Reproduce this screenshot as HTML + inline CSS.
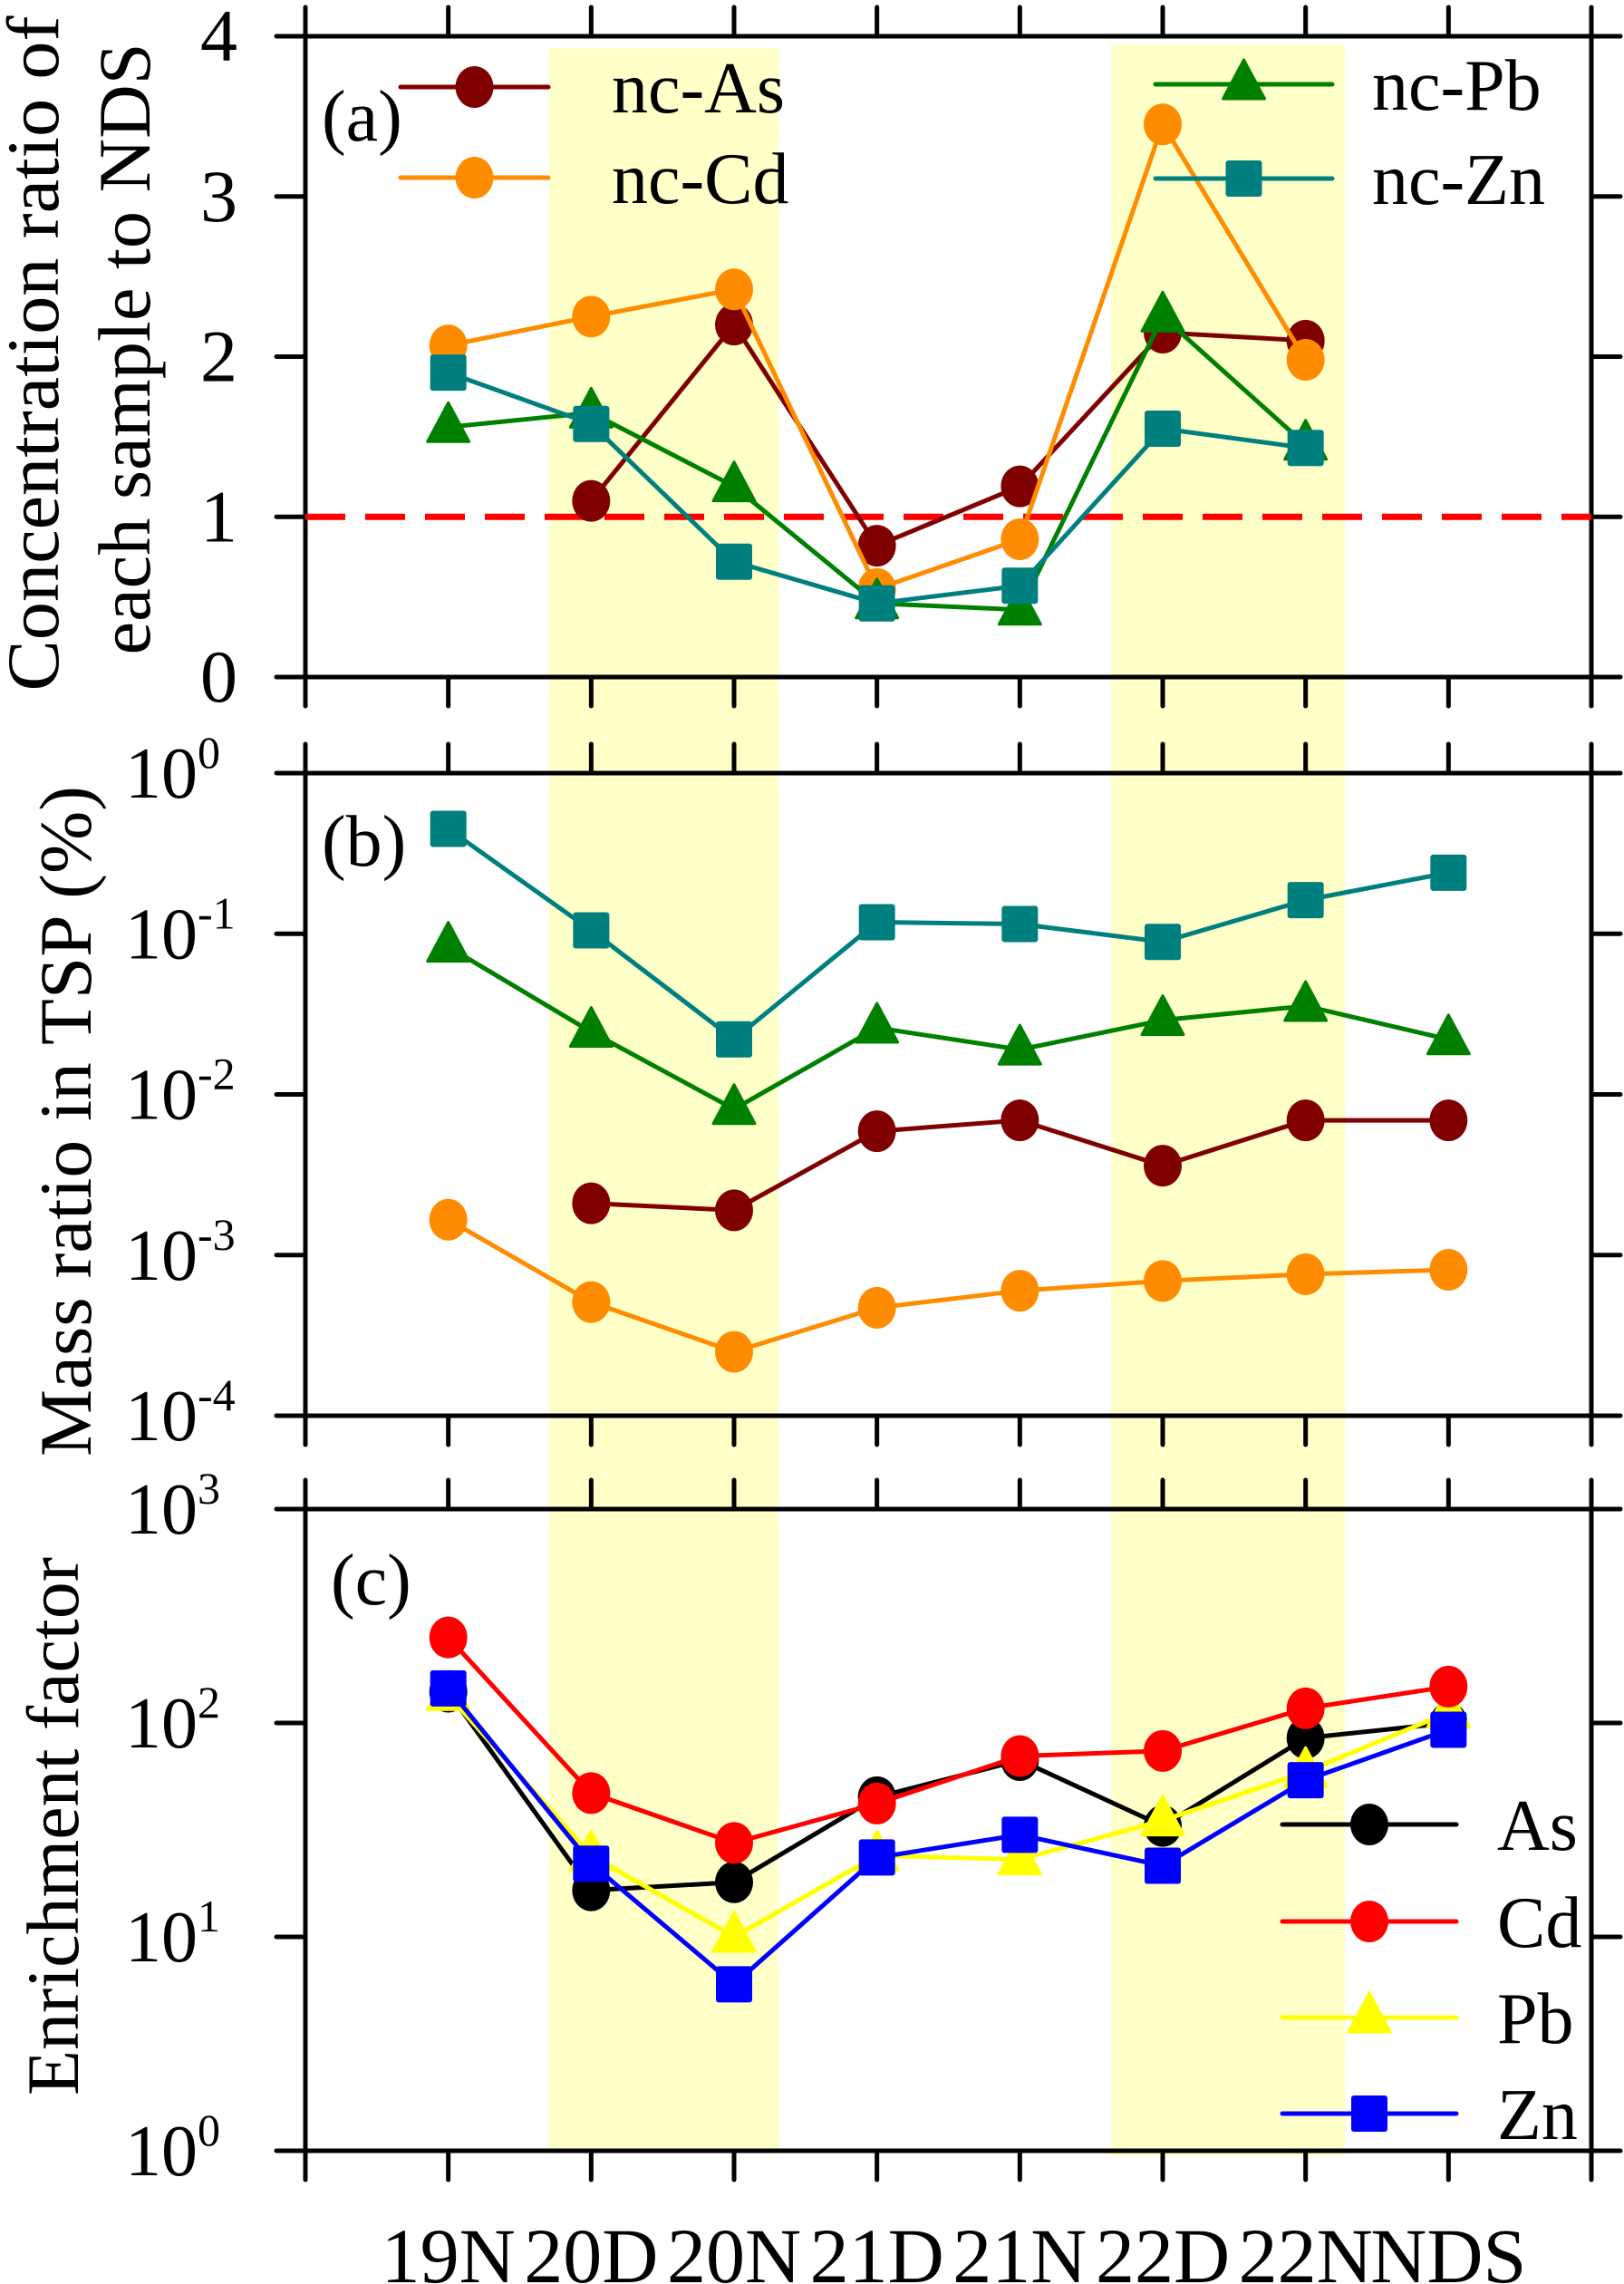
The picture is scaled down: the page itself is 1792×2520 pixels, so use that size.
<!DOCTYPE html>
<html><head><meta charset="utf-8"><style>
html,body{margin:0;padding:0;background:#fff;}
svg{display:block;}
text{font-family:"Liberation Serif","Times New Roman","DejaVu Serif",serif;fill:#000;}
</style></head><body>
<svg id="chart" width="1792" height="2520" viewBox="0 0 1792 2520" xmlns="http://www.w3.org/2000/svg" font-family="Liberation Serif, Times New Roman, DejaVu Serif, serif">
<g id="bands"></g><g id="axes"></g><g id="series"></g><g id="labels"></g>
</svg>
<script>
const categories = ["19N","20D","20N","21D","21N","22D","22N","NDS"];
// Panel (a) concentration ratio
const aAs = [null,1.1,2.2,0.82,1.19,2.15,2.1,null];
const aCd = [2.07,2.25,2.42,0.55,0.86,3.45,1.98,null];
const aPb = [1.56,1.65,1.19,0.46,0.42,2.25,1.45,null];
const aZn = [1.9,1.58,0.72,0.46,0.57,1.55,1.43,null];
const aTicks = [0,1,2,3,4];
// Panel (b) mass ratio in TSP (%)
const bZn = [0.45,0.105,0.022,0.118,0.115,0.089,0.162,0.24];
const bPb = [0.083,0.0245,0.0081,0.026,0.019,0.029,0.0355,0.022];
const bAs = [null,0.0021,0.0019,0.0059,0.0069,0.0036,0.0069,0.0069];
const bCd = [0.00166,0.00051,0.00025,0.00047,0.0006,0.00069,0.00076,0.00081];
const bExp = [0,-1,-2,-3,-4];
// Panel (c) enrichment factor
const cAs = [140,16.5,18,45,67,33,85,100];
const cCd = [251,47,27.5,42,70,74,117,148];
const cPb = [135,24,10,24,23,35,59,112];
const cZn = [145,22,6,23.5,30,21.5,54,93];
const cExp = [0,1,2,3];

const NS="http://www.w3.org/2000/svg";
const FONT='"Liberation Serif","Times New Roman","DejaVu Serif",serif';
const L=337,R=1756,step=(R-L)/9;
const X=i=>L+(i+1)*step;
const P={a:{t:40,b:747},b:{t:853,b:1562},c:{t:1665,b:2373}};
const yA=v=>P.a.b-(v/4)*(P.a.b-P.a.t);
const yB=v=>P.b.b-((Math.log10(v)+4)/4)*(P.b.b-P.b.t);
const yC=v=>P.c.b-(Math.log10(v)/3)*(P.c.b-P.c.t);
function mk(tag,attrs,parent){const e=document.createElementNS(NS,tag);for(const k in attrs)e.setAttribute(k,attrs[k]);if(tag==='text')e.style.fontFamily=FONT;document.getElementById(parent).appendChild(e);return e;}

let e;
e=mk('rect',{x:606,y:53,width:253,height:2323,fill:'#ffffc8'},'bands');


e=mk('rect',{x:1226,y:49,width:258,height:2330,fill:'#ffffc8'},'bands');



function panelAxes(p,name){
  const {t,b}=P[p];
  e=mk('rect',{x:L,y:t,width:R-L,height:b-t,fill:'none',stroke:'#000','stroke-width':5},'axes');
  
  
  for(let i=0;i<10;i++){
    const x=L+i*step;
    e=mk('line',{x1:x,y1:t-32,x2:x,y2:t,stroke:'#000','stroke-width':5,'stroke-linecap':'round'},'axes');
    
    
    e=mk('line',{x1:x,y1:b,x2:x,y2:b+32,stroke:'#000','stroke-width':5,'stroke-linecap':'round'},'axes');
    
    
  }
}
panelAxes('a','panel-a');panelAxes('b','panel-b');panelAxes('c','panel-c');
function yTick(y,name){
  e=mk('line',{x1:L-32,y1:y,x2:L,y2:y,stroke:'#000','stroke-width':5,'stroke-linecap':'round'},'axes');
  
  
  e=mk('line',{x1:R,y1:y,x2:R+32,y2:y,stroke:'#000','stroke-width':5,'stroke-linecap':'round'},'axes');
  
  
}
aTicks.forEach(v=>{const y=yA(v);yTick(y,'panel-a');
  e=mk('text',{x:262,y:y+27,'font-size':82,'text-anchor':'end'},'labels');e.textContent=String(v);
  
  });
function powLabel(y,ex,name){
  e=mk('text',{x:218,y:y+27,'font-size':80,'text-anchor':'end'},'labels');e.textContent='10';
  
  
  e=mk('text',{x:218,y:y-6,'font-size':50,'text-anchor':'start'},'labels');e.textContent=String(ex);
  
  
}
bExp.forEach(ex=>{const y=yB(Math.pow(10,ex));yTick(y,'panel-b');powLabel(y,ex,'panel-b');});
cExp.forEach(ex=>{const y=yC(Math.pow(10,ex));yTick(y,'panel-c');powLabel(y,ex,'panel-c');});

e=mk('line',{x1:L,y1:yA(1),x2:R,y2:yA(1),stroke:'#ff0000','stroke-width':7,'stroke-dasharray':'44 22'},'axes');



function marker(shape,x,y,color,name){
  if(shape==='circle'){e=mk('ellipse',{cx:x,cy:y,rx:21,ry:23,fill:color},'series');}
  else if(shape==='square'){e=mk('rect',{x:x-20,y:y-20,width:40,height:40,rx:3,fill:color},'series');}
  else {e=mk('polygon',{points:`${x},${y-27} ${x+23},${y+16} ${x-23},${y+16}`,fill:color,stroke:color,'stroke-width':3,'stroke-linejoin':'round'},'series');}
  
  
}
function series(vals,yf,color,shape,name){
  const pts=[];vals.forEach((v,i)=>{if(v!=null)pts.push([X(i),yf(v)]);});
  e=mk('polyline',{points:pts.map(p=>p.join(',')).join(' '),fill:'none',stroke:color,'stroke-width':5,'stroke-linejoin':'round'},'series');
  
  
  pts.forEach(p=>marker(shape,p[0],p[1],color,name+'-point'));
}
series(aAs,yA,'#800000','circle','nc-as');
series(aCd,yA,'#ff8c00','circle','nc-cd');
series(aPb,yA,'#008000','triangle','nc-pb');
series(aZn,yA,'#007f7f','square','nc-zn');
series(bCd,yB,'#ff8c00','circle','mass-cd');
series(bAs,yB,'#800000','circle','mass-as');
series(bPb,yB,'#008000','triangle','mass-pb');
series(bZn,yB,'#007f7f','square','mass-zn');
series(cAs,yC,'#000000','circle','ef-as');
series(cPb,yC,'#ffff00','triangle','ef-pb');
series(cZn,yC,'#0000ff','square','ef-zn');
series(cCd,yC,'#ff0000','circle','ef-cd');

function legend(x1,x2,y,color,shape,label,tx,name){
  e=mk('line',{x1:x1,y1:y,x2:x2,y2:y,stroke:color,'stroke-width':5,'stroke-linecap':'round'},'series');
  
  
  marker(shape,(x1+x2)/2,y,color,name+'-legend-marker');
  e=mk('text',{x:tx,y:y+28,'font-size':80},'labels');e.textContent=label;
  
  
}
legend(442,605,96,'#800000','circle','nc-As',675,'nc-as');
legend(442,605,196,'#ff8c00','circle','nc-Cd',675,'nc-cd');
legend(1275,1470,93,'#008000','triangle','nc-Pb',1514,'nc-pb');
legend(1275,1470,197,'#007f7f','square','nc-Zn',1514,'nc-zn');
legend(1415,1607,2013,'#000000','circle','As',1652,'ef-as');
legend(1415,1607,2120,'#ff0000','circle','Cd',1652,'ef-cd');
legend(1415,1607,2226,'#ffff00','triangle','Pb',1652,'ef-pb');
legend(1415,1607,2332,'#0000ff','square','Zn',1652,'ef-zn');

[['(a)',355,155,'panel-a-label'],['(b)',355,955,'panel-b-label'],['(c)',365,1770,'panel-c-label']].forEach(d=>{
  e=mk('text',{x:d[1],y:d[2],'font-size':80},'labels');e.textContent=d[0];
  
  
});
categories.forEach((c,i)=>{
  e=mk('text',{x:X(i),y:2518,'font-size':86,'text-anchor':'middle'},'labels');e.textContent=c;
  
  
});
function ytitle(txt,x,yc,len,name){
  e=mk('text',{x:0,y:0,'font-size':82,'text-anchor':'middle',textLength:len,lengthAdjust:'spacingAndGlyphs',transform:`translate(${x},${yc}) rotate(-90)`},'labels');e.textContent=txt;
  
  
}
ytitle('Concentration ratio of',64,390,745,'panel-a-y-title-line1');
ytitle('each sample to NDS',165,385,675,'panel-a-y-title-line2');
ytitle('Mass ratio in TSP (%)',100,1237,740,'panel-b-y-title');
ytitle('Enrichment factor',86,2015,594,'panel-c-y-title');
</script>
</body></html>
